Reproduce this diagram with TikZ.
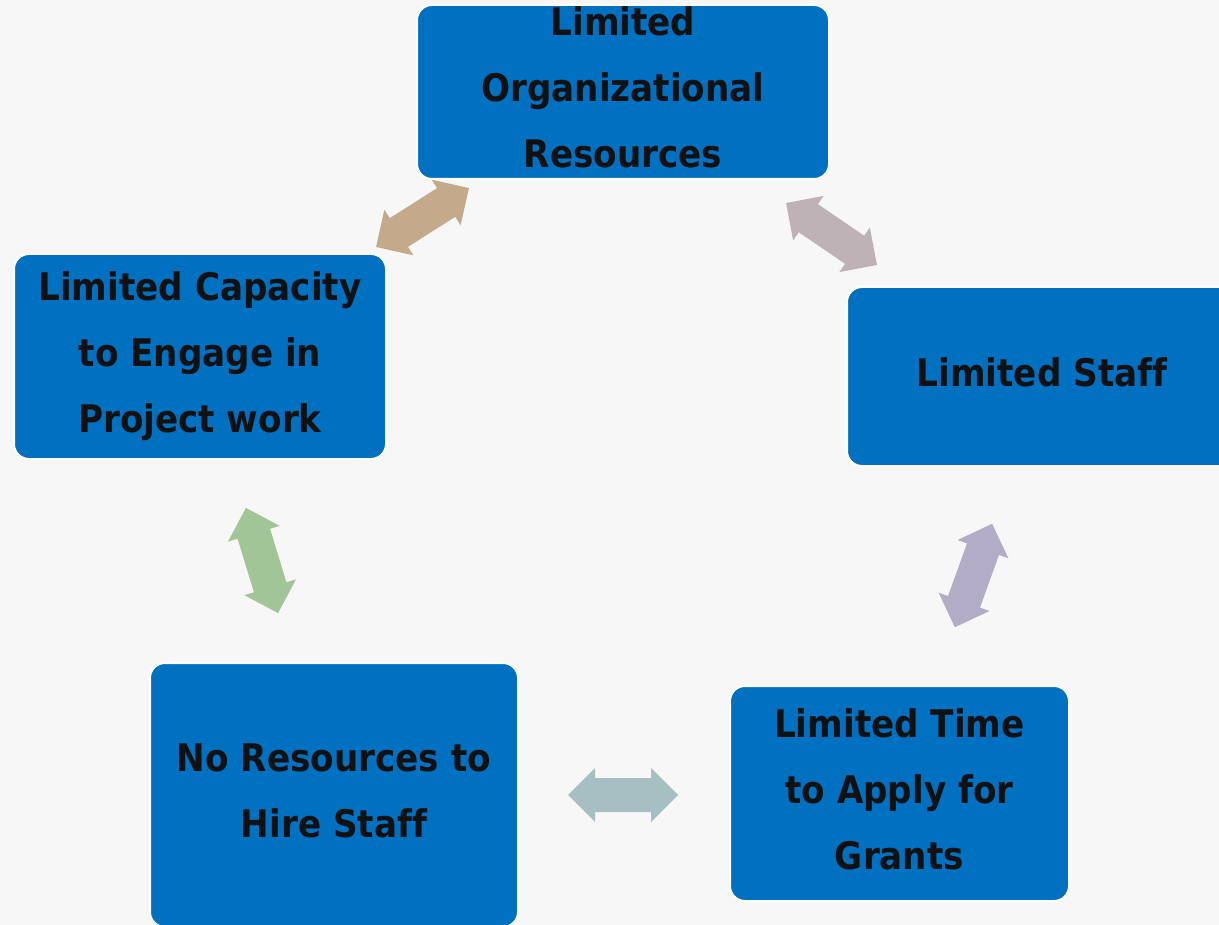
\documentclass[tikz,border=0pt]{standalone}
\usepackage{fontspec}
\setmainfont[Ligatures=NoCommon]{DejaVu Sans Condensed}
\usepackage{tikz}

\definecolor{boxblue}{HTML}{0070C0}
\definecolor{paper}{HTML}{F7F7F7}
\definecolor{ink}{HTML}{111111}
\definecolor{tan}{HTML}{C5A98B}
\definecolor{mauve}{HTML}{BFB2B7}
\definecolor{lavender}{HTML}{B2ACC6}
\definecolor{teal}{HTML}{A5BFC2}
\definecolor{sage}{HTML}{A2C598}

\begin{document}
\begin{tikzpicture}[x=1pt,y=-1pt,
  box/.style={draw=white,line width=2pt,fill=boxblue,rounded corners=15pt,
    inner sep=0pt,align=center,text=ink,text depth=9pt,
    font=\bfseries\fontsize{38}{66}\selectfont}]
\useasboundingbox (0,0) rectangle (1219,925);
\fill[paper] (0,0) rectangle (1219,925);
\node[box,minimum width=412pt,minimum height=174pt] (org) at (623,92){Limited\\Organizational\\Resources};
\node[box,minimum width=390pt,minimum height=179pt] (staff) at (1042,376.5){Limited Staff};
\node[box,minimum width=339pt,minimum height=215pt] (time) at (899.5,793.5){Limited Time\\to Apply for\\Grants};
\node[box,minimum width=368pt,minimum height=264pt] (hire) at (334,795){No Resources to\\Hire Staff};
\node[box,minimum width=372pt,minimum height=205pt] (capacity) at (200,356.5){Limited Capacity\\to Engage in\\Project work};
\foreach \x/\y/\ang/\col in {422.5/217.5/32.4/tan,831.5/234/-34.3/mauve,
  973.5/575.5/70.2/lavender,623/795/0/teal,262/560.5/107/sage}
  \fill[\col,shift={(\x,\y)},rotate=\ang] (-55,0) -- (-28,-27) -- (-28,-17) -- (28,-17)
    -- (28,-27) -- (55,0) -- (28,27) -- (28,17) -- (-28,17) -- (-28,27) -- cycle;
\end{tikzpicture}
\end{document}
